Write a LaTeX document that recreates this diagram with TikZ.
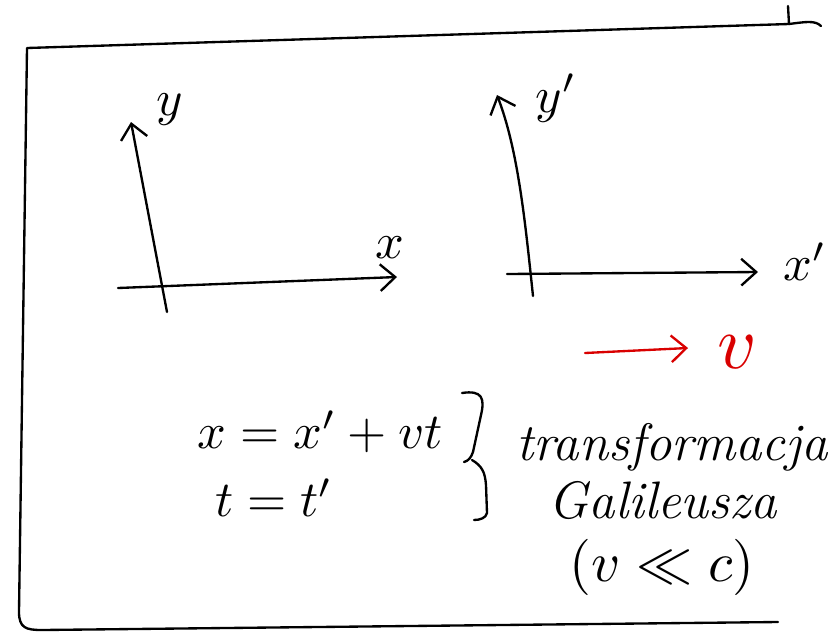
\documentclass[tikz,border=0pt]{standalone}
\usepackage{amsmath}
\usepackage{tikz}
\usetikzlibrary{arrows.meta}
\newcommand{\bigmath}[1]{\scalebox{4.3}{$#1$}}

\begin{document}
\begin{tikzpicture}[x=0.03cm,y=-0.03cm,>={Straight Barb[length=4.5mm,width=8mm]},
  pen/.style={line width=2pt,line cap=round,line join=round},
  lbl/.style={inner sep=0pt},
  txt/.style={inner sep=0pt,font=\fontsize{45}{54}\selectfont\itshape}]
\useasboundingbox (0,0) rectangle (837,633);
% frame
\draw[pen] (788,6) -- (789,24) -- (27,48) -- (19,612) .. controls (19,628) and (26,630) .. (42,630) -- (778,622);
\draw[pen] (789,24) .. controls (805,22) and (815,20) .. (821,26);
% unprimed axes
\coordinate (xend) at (397,277);
\coordinate (yend) at (131,122);
\draw[pen,->] (167,312) -- (yend);
\draw[pen,->] (118,288) -- (xend);
\node[lbl] (ylab) at (170,110) {\bigmath{y}};
\node[lbl] (xlab) at (390,248) {\bigmath{x}};
% primed axes
\coordinate (x2end) at (758,272);
\coordinate (y2end) at (497,95);
\draw[pen,->] (533,296) .. controls (525,220) and (518,150) .. (y2end);
\draw[pen,->] (507,274) -- (x2end);
\node[lbl] (y2lab) at (556,98) {\bigmath{y'}};
\node[lbl] (x2lab) at (805,262) {\bigmath{x'}};
% velocity
\coordinate (vstart) at (585,353);
\coordinate (vend) at (688,348);
\draw[pen,red!85!black,->] (vstart) -- (vend);
\node[lbl,text=red!85!black] (vlab) at (737,352) {\scalebox{6.5}{$v$}};
% equations
\node[lbl] (eqx) at (320,432) {\bigmath{x = x' + vt}};
\node[lbl] (eqt) at (274,498) {\bigmath{t = t'}};
\draw[pen] (462,393) .. controls (482,390) and (485,398) .. (481,415) -- (473,452) .. controls (471,458) and (468,461) .. (464,462);
\draw[pen] (472,460) .. controls (482,466) and (485,472) .. (486,485) -- (487,513) .. controls (486,518) and (480,520) .. (474,520);
\node[txt] (tr1) at (672,447) {transformacja};
\node[txt] (tr2) at (663,500) {Galileusza};
\node[lbl] (tr3) at (662,567) {\scalebox{4.8}{$(v \ll c)$}};
\end{tikzpicture}
\end{document}
